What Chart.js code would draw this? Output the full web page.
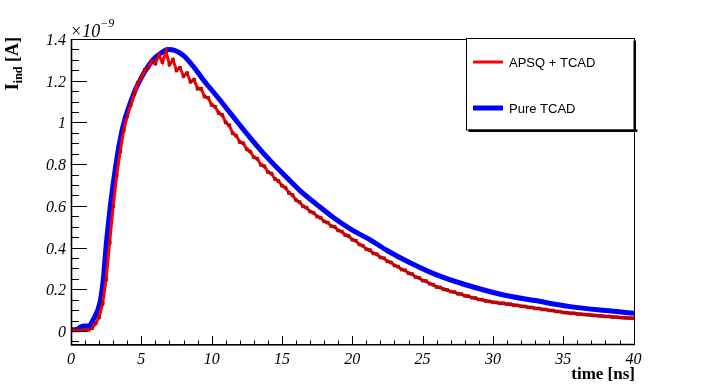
<!DOCTYPE html>
<html>
<head>
<meta charset="utf-8">
<script src="https://cdn.jsdelivr.net/npm/chart.js@4/dist/chart.umd.min.js"></script>
<style>
html,body{margin:0;padding:0;background:#fff;}
#wrap{width:706px;height:384px;}
</style>
</head>
<body>
<div id="wrap"><canvas id="c" width="706" height="384"></canvas></div>
<script>
// ---- data (current in units of 1e-9 A, time in ns) ----
const seriesNames = ["APSQ + TCAD", "Pure TCAD"];
const xTickValues = [0, 5, 10, 15, 20, 25, 30, 35, 40];
const yTickValues = [0, 0.2, 0.4, 0.6, 0.8, 1.0, 1.2, 1.4];
const xTitle = "time [ns]";
const yExponent = "\u22129";

const blueTime = [0, 0.4, 0.7, 1.0, 1.3, 1.6, 1.9, 2.1, 2.3, 2.5, 2.8, 3.2, 3.5, 3.85, 4.2, 4.6, 5.0, 5.4, 5.9, 6.4, 6.9, 7.4, 8.0, 8.7, 9.4, 10.5, 11.5, 12.7, 13.9, 15.1, 16.3, 17.5, 18.7, 20.0, 21.3, 22.5, 24.0, 26.0, 28.0, 30.75, 33.0, 35.5, 38.0, 40.1];
const blueCurrent = [0.006, 0.007, 0.02, 0.024, 0.026, 0.057, 0.10, 0.15, 0.25, 0.41, 0.60, 0.80, 0.92, 1.02, 1.09, 1.16, 1.215, 1.26, 1.305, 1.333, 1.35, 1.345, 1.32, 1.268, 1.205, 1.115, 1.03, 0.93, 0.836, 0.752, 0.672, 0.605, 0.542, 0.484, 0.436, 0.385, 0.331, 0.269, 0.223, 0.173, 0.146, 0.117, 0.098, 0.085];

const redTime = [0,0.25,0.5,0.75,1,1.25,1.5,1.75,2,2.25,2.5,2.75,3,3.25,3.5,3.75,4,4.25,4.5,4.75,5,5.25,5.5,5.75,6,6.25,6.5,6.75,7,7.25,7.5,7.75,8,8.25,8.5,8.75,9,9.25,9.5,9.75,10,10.25,10.5,10.75,11,11.25,11.5,11.75,12,12.25,12.5,12.75,13,13.25,13.5,13.75,14,14.25,14.5,14.75,15,15.25,15.5,15.75,16,16.25,16.5,16.75,17,17.25,17.5,17.75,18,18.25,18.5,18.75,19,19.25,19.5,19.75,20,20.25,20.5,20.75,21,21.25,21.5,21.75,22,22.25,22.5,22.75,23,23.25,23.5,23.75,24,24.25,24.5,24.75,25,25.25,25.5,25.75,26,26.25,26.5,26.75,27,27.25,27.5,27.75,28,28.25,28.5,28.75,29,29.25,29.5,29.75,30,30.25,30.5,30.75,31,31.25,31.5,31.75,32,32.25,32.5,32.75,33,33.25,33.5,33.75,34,34.25,34.5,34.75,35,35.25,35.5,35.75,36,36.25,36.5,36.75,37,37.25,37.5,37.75,38,38.25,38.5,38.75,39,39.25,39.5,39.75,40];
const redCurrent = [0.004,0.005,0.003,0.005,0.004,0.006,0.014,0.036,0.066,0.132,0.248,0.425,0.598,0.745,0.862,0.962,1.03,1.085,1.135,1.19,1.212,1.252,1.262,1.295,1.282,1.322,1.29,1.34,1.278,1.30,1.25,1.262,1.222,1.236,1.195,1.205,1.162,1.162,1.124,1.118,1.084,1.075,1.045,1.036,1.0,0.986,0.948,0.936,0.906,0.90,0.871,0.86,0.833,0.826,0.797,0.79,0.762,0.755,0.729,0.72,0.697,0.687,0.662,0.652,0.628,0.618,0.598,0.591,0.573,0.567,0.549,0.543,0.525,0.52,0.503,0.499,0.482,0.477,0.46,0.455,0.438,0.433,0.415,0.409,0.392,0.388,0.372,0.368,0.353,0.349,0.334,0.329,0.314,0.309,0.295,0.291,0.277,0.273,0.259,0.255,0.242,0.239,0.227,0.222,0.211,0.209,0.2,0.197,0.189,0.187,0.179,0.177,0.169,0.167,0.16,0.158,0.151,0.15,0.144,0.142,0.138,0.137,0.133,0.133,0.129,0.128,0.124,0.123,0.119,0.118,0.114,0.113,0.109,0.108,0.104,0.103,0.099,0.098,0.094,0.093,0.089,0.088,0.085,0.085,0.082,0.081,0.079,0.078,0.076,0.075,0.073,0.072,0.07,0.07,0.067,0.067,0.065,0.064,0.063,0.062,0.061];

const redPoints = redTime.map((t, i) => ({x: t, y: redCurrent[i]}));
const bluePoints = blueTime.map((t, i) => ({x: t, y: blueCurrent[i]}));

const AREA = {left: 71, right: 635, top: 39, bottom: 345};

function fmt(v) { return String(Number(v.toFixed(2))); }

const decorPlugin = {
  id: 'decor',
  afterDraw(chart) {
    const ctx = chart.ctx;
    const xs = chart.scales.x, ys = chart.scales.y;
    const a = chart.chartArea;
    ctx.save();
    ctx.strokeStyle = '#000';
    ctx.fillStyle = '#000';
    // frame
    ctx.lineWidth = 1;
    ctx.strokeRect(a.left + 0.5, a.top + 0.5, a.right - a.left - 1, a.bottom - a.top - 1);
    ctx.lineWidth = 1.6;
    ctx.beginPath();
    ctx.moveTo(a.left + 0.5, a.top); ctx.lineTo(a.left + 0.5, a.bottom);
    ctx.lineTo(a.right, a.bottom - 0.5);
    ctx.stroke();
    // x ticks (inside) + labels
    ctx.lineWidth = 1;
    ctx.beginPath();
    for (let i = 0; i < xTickValues.length; i++) {
      const v = xTickValues[i];
      const px = Math.round(xs.getPixelForValue(v)) + 0.5;
      ctx.moveTo(px, a.bottom); ctx.lineTo(px, a.bottom - 9);
      if (i < xTickValues.length - 1) {
        const step = (xTickValues[i + 1] - v) / 5;
        for (let k = 1; k < 5; k++) {
          const mx = Math.round(xs.getPixelForValue(v + k * step)) + 0.5;
          ctx.moveTo(mx, a.bottom); ctx.lineTo(mx, a.bottom - 4.5);
        }
      }
    }
    ctx.stroke();
    ctx.font = 'italic 16px "Liberation Serif", "DejaVu Serif", serif';
    ctx.textAlign = 'center';
    ctx.textBaseline = 'alphabetic';
    for (const v of xTickValues) {
      ctx.fillText(fmt(v), xs.getPixelForValue(v), 364);
    }
    // y ticks (inside) + labels
    ctx.beginPath();
    const yStep = (yTickValues[1] - yTickValues[0]) / 4;
    for (let i = 0; i < yTickValues.length; i++) {
      const v = yTickValues[i];
      const py = Math.round(ys.getPixelForValue(v)) + 0.5;
      ctx.moveTo(a.left, py); ctx.lineTo(a.left + 16, py);
      if (i < yTickValues.length - 1) {
        for (let k = 1; k < 4; k++) {
          const my = Math.round(ys.getPixelForValue(v + k * yStep)) + 0.5;
          ctx.moveTo(a.left, my); ctx.lineTo(a.left + 8, my);
        }
      }
    }
    for (let k = 1; k < 4; k++) {
      const val = yTickValues[0] - k * yStep;
      if (val < ys.min) break;
      const my = Math.round(ys.getPixelForValue(val)) + 0.5;
      ctx.moveTo(a.left, my); ctx.lineTo(a.left + 8, my);
    }
    ctx.stroke();
    ctx.textAlign = 'right';
    for (const v of yTickValues) {
      ctx.fillText(fmt(v), 66, ys.getPixelForValue(v) + 6);
    }

    // exponent
    ctx.textAlign = 'left';
    ctx.font = 'italic 18px "Liberation Serif", serif';
    ctx.fillText('\u00d710', 70, 37);
    const w = ctx.measureText('\u00d710').width;
    ctx.font = 'italic 12px "Liberation Serif", serif';
    ctx.fillText(yExponent, 70 + w, 27);

    // x title
    ctx.font = 'bold 17px "Liberation Serif", serif';
    ctx.textAlign = 'right';
    ctx.fillText(xTitle, a.right, 379);

    // y title (rotated): I_ind [A]
    ctx.save();
    ctx.translate(18, 37);
    ctx.rotate(-Math.PI / 2);
    ctx.textAlign = 'left';
    const big = 'bold 18px "Liberation Serif", serif';
    const small = 'bold 12px "Liberation Serif", serif';
    ctx.font = big; const wI = ctx.measureText('I').width;
    ctx.font = small; const wSub = ctx.measureText('ind').width;
    ctx.font = big; const wRest = ctx.measureText(' [A]').width;
    const total = wI + wSub + wRest;
    let x0 = -total;
    ctx.font = big; ctx.fillText('I', x0, 0); x0 += wI;
    ctx.font = small; ctx.fillText('ind', x0, 4); x0 += wSub;
    ctx.font = big; ctx.fillText(' [A]', x0, 0);
    ctx.restore();

    // legend
    const L = {l: 466.5, t: 38.5, r: 634.5, b: 130};
    ctx.fillStyle = '#fff';
    ctx.fillRect(L.l, L.t, L.r - L.l, L.b - L.t);
    ctx.strokeStyle = '#000';
    ctx.lineWidth = 1;
    ctx.strokeRect(L.l, L.t, L.r - L.l, L.b - L.t);
    ctx.fillStyle = '#000';
    ctx.fillRect(L.r - 1, L.t + 2, 2.5, L.b - L.t);
    ctx.fillRect(L.l + 2, L.b - 0.5, L.r - L.l + 1, 2.5);
    const ds = chart.data.datasets;
    const rowsY = [62, 108];
    ctx.font = '13px "Liberation Sans", Arial, sans-serif';
    ctx.textAlign = 'left';
    ctx.textBaseline = 'middle';
    for (let i = 0; i < ds.length; i++) {
      ctx.strokeStyle = ds[i].borderColor;
      ctx.lineWidth = i === 0 ? 3 : 5;
      ctx.beginPath();
      ctx.moveTo(473, rowsY[i]); ctx.lineTo(503, rowsY[i]);
      ctx.stroke();
      ctx.fillStyle = '#000';
      ctx.fillText(ds[i].label, 509, rowsY[i] + 1);
    }
    ctx.restore();
  }
};

new Chart(document.getElementById('c'), {
  type: 'line',
  data: {
    datasets: [
      {
        label: seriesNames[0],
        data: redPoints,
        borderColor: '#ff0000',
        backgroundColor: '#ff0000',
        borderWidth: 3,
        pointRadius: 2.1,
        pointStyle: 'rect',
        pointBackgroundColor: '#ee0000',
        pointBorderColor: '#7a0000',
        pointBorderWidth: 0.6,
        tension: 0
      },
      {
        label: seriesNames[1],
        data: bluePoints,
        borderColor: '#0000ff',
        backgroundColor: '#0000ff',
        borderWidth: 5,
        pointRadius: 0,
        cubicInterpolationMode: 'monotone'
      }
    ]
  },
  options: {
    responsive: false,
    animation: false,
    devicePixelRatio: 1,
    layout: {padding: {left: 0, top: AREA.top, right: 706 - AREA.right, bottom: 0}},
    plugins: {legend: {display: false}, tooltip: {enabled: false}},
    scales: {
      x: {
        type: 'linear',
        min: 0,
        max: 40.1,
        grid: {display: false},
        border: {display: false},
        afterBuildTicks: (s) => { s.ticks = xTickValues.map(v => ({value: v})); },
        afterFit: (s) => { s.height = 384 - AREA.bottom; },
        ticks: {display: false}
      },
      y: {
        type: 'linear',
        min: -0.067,
        max: 1.4,
        grid: {display: false},
        border: {display: false},
        afterBuildTicks: (s) => { s.ticks = yTickValues.map(v => ({value: v})); },
        afterFit: (s) => { s.width = AREA.left; },
        ticks: {display: false}
      }
    }
  },
  plugins: [decorPlugin]
});
</script>
</body>
</html>
